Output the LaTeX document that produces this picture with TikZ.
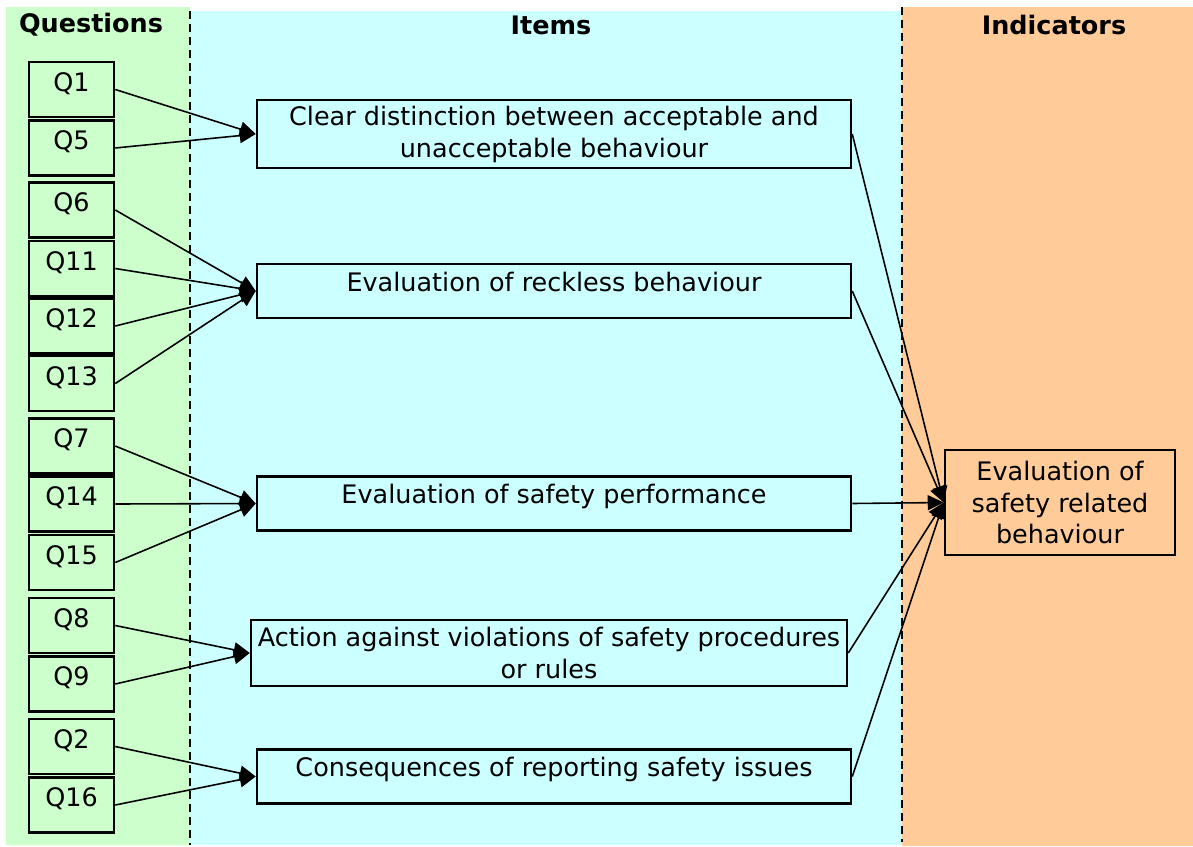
\documentclass[tikz,border=0pt]{standalone}
\usepackage{fontspec}
\setmainfont{DejaVu Sans}
\usepackage{xcolor}
\usetikzlibrary{arrows.meta,positioning}
\definecolor{questioncolor}{RGB}{204,255,204}
\definecolor{itemcolor}{RGB}{204,255,255}
\definecolor{indicatorcolor}{RGB}{255,204,153}

\begin{document}
\begin{tikzpicture}[x=0.02cm,y=-0.02cm,
    every node/.style={font=\fontsize{14.5}{18.2}\selectfont},
    qbox/.style={draw,line width=1.5pt,inner sep=0pt,minimum width=1.7cm,text height=0.58cm,text depth=0.52cm},
    itembox/.style={draw,line width=1.5pt,inner sep=0pt,minimum width=11.88cm,align=center},
    oneline/.style={text height=0.54cm,text depth=0.54cm},
    arr/.style={-{Triangle[length=0.32cm,width=0.3cm]},line width=0.9pt},
    sep/.style={line width=1.4pt,dash pattern=on 0.16cm off 0.1cm}]
    \useasboundingbox[fill=white] (0,0) rectangle (1193,846);
    % Column backgrounds
    \fill[questioncolor] (6,7) rectangle (190,845);
    \fill[itemcolor] (190,11) rectangle (902,845);
    \fill[indicatorcolor] (902,7) rectangle (1193,846);
    \draw[sep] (190,11) -- (190,845);
    \draw[sep] (902,7) -- (902,842);
    % Headers
    \node[font=\fontsize{14.5}{18.2}\selectfont\bfseries] (hq) at (91,25) {Questions};
    \node[font=\fontsize{14.5}{18.2}\selectfont\bfseries] (hi) at (551,25) {Items};
    \node[font=\fontsize{14.5}{18.2}\selectfont\bfseries] (hn) at (1054,25) {Indicators};
    % Questions
    \foreach \nm/\yc in {1/89.5,5/148,6/210,11/268.5,12/326,13/383.5,7/446,14/504,15/562.5,8/625.5,9/684,2/746.5,16/805} {
        \node[qbox] (q\nm) at (71.5,\yc) {Q\nm};
    }
    % Items
    \node[itembox,minimum height=1.36cm] (clear) at (554,134) {Clear distinction between acceptable and\\unacceptable behaviour};
    \node[itembox,oneline] (reckless) at (554,291) {Evaluation of reckless behaviour};
    \node[itembox,oneline] (perf) at (554,503.5) {Evaluation of safety performance};
    \node[itembox,minimum width=11.92cm,minimum height=1.32cm] (action) at (549,653) {Action against violations of safety procedures\\or rules};
    \node[itembox,oneline] (report) at (554,776.5) {Consequences of reporting safety issues};
    % Indicator
    \node[draw,line width=1.5pt,inner sep=0pt,minimum width=4.6cm,minimum height=2.1cm,align=center] (safety) at (1060,502.5) {Evaluation of\\safety related\\behaviour};
    % Connectors
    \foreach \q/\it in {1/clear,5/clear,6/reckless,11/reckless,12/reckless,13/reckless,7/perf,14/perf,15/perf,8/action,9/action,2/report,16/report} {
        \draw[arr] (q\q.east) -- (\it.west);
    }
    \foreach \it in {clear,reckless,perf,action,report} {
        \draw[arr] (\it.east) -- (safety.west);
    }
\end{tikzpicture}
\end{document}
